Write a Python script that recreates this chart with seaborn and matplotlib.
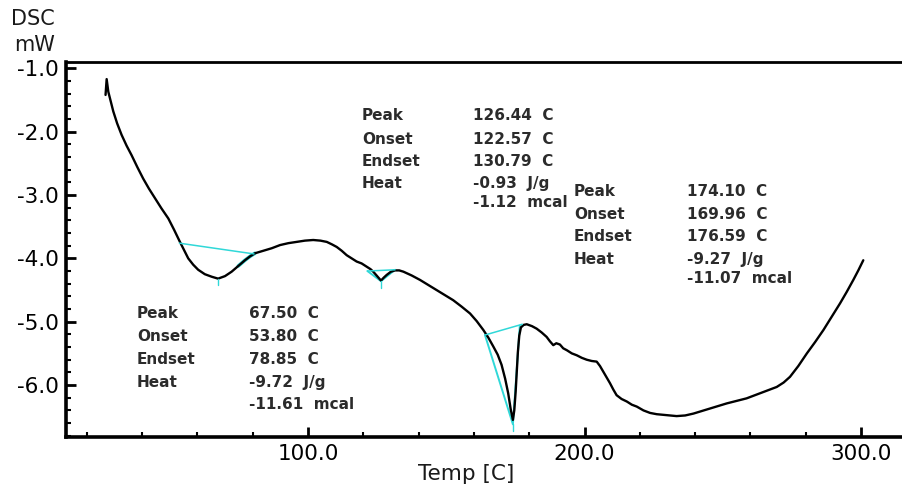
import matplotlib
matplotlib.use("Agg")
import matplotlib.pyplot as plt
from matplotlib.ticker import MultipleLocator, FormatStrFormatter
import numpy as np
import pandas as pd
import seaborn as sns

# DSC trace: temperature (C) and heat flow (mW)
temp = [26.8, 27.2, 27.8, 29.6, 31.0, 32.6, 34.4, 36.2, 38.3, 40.4, 42.5, 44.7,
        47.0, 49.5, 51.6, 53.7, 55.3, 56.7, 58.5, 60.3, 62.7, 65.2, 67.5, 70.0,
        72.4, 74.8, 77.2, 79.0, 80.8, 83.8, 86.9, 89.9, 92.9, 95.9, 98.9, 101.9,
        104.5, 106.8, 108.7, 110.4, 112.2, 114.0, 115.8, 117.6, 119.4, 121.2,
        122.6, 123.6, 124.8, 126.4, 127.5, 128.5, 130.0, 131.5, 133.0, 134.5,
        137.5, 140.5, 143.5, 146.5, 149.5, 152.5, 155.5, 158.6, 161.0, 163.4,
        165.2, 167.0, 168.6, 170.0, 171.3, 172.4, 173.3, 174.1, 174.6, 175.1,
        175.5, 175.9, 176.4, 177.0, 178.0, 179.1, 181.0, 182.7, 184.5, 186.3,
        187.5, 188.7, 189.8, 191.1, 192.3, 193.6, 195.4, 197.2, 199.0, 200.8,
        202.6, 204.4, 205.6, 206.8, 208.0, 209.2, 210.4, 211.6, 213.4, 215.3,
        217.1, 218.9, 221.3, 223.7, 226.1, 228.5, 230.9, 233.3, 236.4, 239.4,
        242.4, 245.4, 248.4, 251.4, 255.0, 258.6, 261.0, 263.5, 266.5, 269.5,
        272.0, 274.3, 277.3, 280.4, 283.4, 286.4, 289.4, 292.4, 294.8, 297.2,
        299.0, 300.8]
dsc = [-1.42, -1.17, -1.37, -1.68, -1.87, -2.05, -2.22, -2.37, -2.56, -2.74, -2.90, -3.05,
       -3.21, -3.37, -3.55, -3.74, -3.88, -4.00, -4.10, -4.18, -4.25, -4.29, -4.32, -4.28,
       -4.21, -4.12, -4.03, -3.97, -3.92, -3.88, -3.84, -3.79, -3.76, -3.74, -3.72, -3.71,
       -3.72, -3.74, -3.78, -3.82, -3.88, -3.95, -4.00, -4.05, -4.08, -4.13,
       -4.17, -4.21, -4.27, -4.35, -4.30, -4.26, -4.21, -4.19, -4.19, -4.21,
       -4.27, -4.34, -4.42, -4.50, -4.58, -4.66, -4.76, -4.87, -4.99, -5.13,
       -5.25, -5.39, -5.52, -5.68, -5.90, -6.13, -6.38, -6.55, -6.40, -6.10,
       -5.80, -5.48, -5.22, -5.09, -5.05, -5.04, -5.07, -5.11, -5.17, -5.24,
       -5.31, -5.37, -5.34, -5.36, -5.42, -5.45, -5.50, -5.53, -5.57, -5.60,
       -5.62, -5.63, -5.70, -5.79, -5.88, -5.97, -6.07, -6.16, -6.22, -6.26,
       -6.31, -6.34, -6.40, -6.44, -6.46, -6.47, -6.48, -6.49, -6.48, -6.45,
       -6.41, -6.37, -6.33, -6.29, -6.25, -6.21, -6.17, -6.13, -6.08, -6.03,
       -5.96, -5.87, -5.70, -5.50, -5.32, -5.13, -4.92, -4.71, -4.53, -4.34,
       -4.19, -4.03]

# Peak analysis construction lines (baseline start, peak, tangent end, baseline end)
peak_temp = [67.5, 126.4, 174.1]
peak_depth = [-4.32, -4.36, -6.62]
base_start_t = [53.5, 121.5, 164.0]
base_start_v = [-3.76, -4.20, -5.21]
tangent_end_t = [80.5, 131.5, 176.6]
tangent_end_v = [-3.93, -4.18, -5.06]
base_end_t = [80.5, 131.5, 177.5]
base_end_v = [-3.93, -4.18, -5.04]

row_names = ["Peak", "Onset", "Endset", "Heat"]
block_values = [
    ["67.50  C", "53.80  C", "78.85  C", "-9.72  J/g", "-11.61  mcal"],
    ["126.44  C", "122.57  C", "130.79  C", "-0.93  J/g", "-1.12  mcal"],
    ["174.10  C", "169.96  C", "176.59  C", "-9.27  J/g", "-11.07  mcal"],
]

sns.set_style("ticks")
plt.rcParams["font.family"] = ["DejaVu Sans"]

W, H = 902, 486
fig = plt.figure(figsize=(W / 100, H / 100), dpi=100)
ax = fig.add_axes([66 / W, 1 - 437 / H, 1 - 66 / W, (437 - 62) / H])

df = pd.DataFrame({"Temp": temp, "DSC": dsc})
cyan = "#30d8d8"

# analysis construction lines
for i in range(3):
    ax.plot([base_start_t[i], base_end_t[i]], [base_start_v[i], base_end_v[i]],
            color=cyan, lw=1.1, zorder=3)
    if i > 0:
        ax.plot([base_start_t[i], peak_temp[i], tangent_end_t[i]],
                [base_start_v[i], peak_depth[i], tangent_end_v[i]],
                color=cyan, lw=1.4, zorder=1)
    ax.plot([peak_temp[i], peak_temp[i]], [peak_depth[i], peak_depth[i] - 0.1],
            color=cyan, lw=1.0, zorder=3)

# highlighted segment after the first endotherm
seg = df[(df.Temp >= 73.5) & (df.Temp <= 81)]
ax.plot(seg.Temp, seg.DSC, color=cyan, lw=2.6, zorder=1)

sns.lineplot(data=df, x="Temp", y="DSC", ax=ax, color="black", lw=1.7,
             sort=False, estimator=None, zorder=2)

ax.set_xlim(12.5, 314.8)
ax.set_ylim(-6.82, -0.90)
ax.xaxis.set_major_locator(MultipleLocator(100))
ax.xaxis.set_minor_locator(MultipleLocator(20))
ax.yaxis.set_major_locator(MultipleLocator(1))
ax.yaxis.set_minor_locator(MultipleLocator(0.2))
ax.xaxis.set_major_formatter(FormatStrFormatter("%.1f"))
ax.yaxis.set_major_formatter(FormatStrFormatter("%.1f"))
ax.tick_params(axis="both", which="both", direction="in", top=False, right=False,
               colors="black", labelsize=15.5)
ax.tick_params(axis="both", which="major", length=7, width=2, pad=5)
ax.tick_params(axis="both", which="minor", length=3.5, width=1.5)
ax.set_xlabel("")
ax.set_ylabel("")
for side in ["left", "bottom"]:
    ax.spines[side].set_linewidth(2.6)
    ax.spines[side].set_color("black")
ax.spines["top"].set_linewidth(2.0)
ax.spines["top"].set_color("black")
ax.spines["right"].set_visible(False)

# axis titles
fig.text(33 / W, 1 - 19 / H, "DSC", ha="center", va="center", fontsize=15, color="#1a1a1a")
fig.text(35 / W, 1 - 45 / H, "mW", ha="center", va="center", fontsize=15, color="#1a1a1a")
fig.text(466 / W, 1 - 474 / H, "Temp [C]", ha="center", va="center", fontsize=15.5, color="#1a1a1a")

# peak result tables
label_x = [137, 362, 574]
value_x = [249, 473, 687]
row_y = [[313, 336.5, 360, 382.5, 404],
         [116, 139, 161, 183.3, 202.5],
         [191.7, 214.3, 236.7, 259.3, 278.3]]
txt_color = "#2b2b2b"
for b in range(3):
    for r, name in enumerate(row_names):
        fig.text(label_x[b] / W, 1 - row_y[b][r] / H, name, ha="left", va="center",
                 fontsize=11, fontweight="bold", color=txt_color)
    for r, val in enumerate(block_values[b]):
        fig.text(value_x[b] / W, 1 - row_y[b][r] / H, val, ha="left", va="center",
                 fontsize=11, fontweight="bold", color=txt_color)

fig.savefig("out.png", dpi=100)
